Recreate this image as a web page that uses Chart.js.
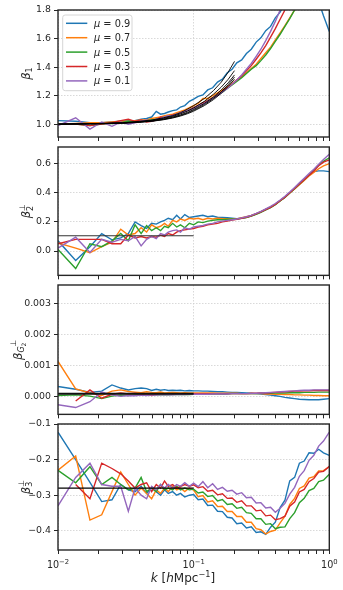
<!DOCTYPE html>
<html>
<head>
<meta charset="utf-8">
<title>beta coefficients vs k</title>
<script src="https://cdn.jsdelivr.net/npm/chart.js@4.4.1/dist/chart.umd.min.js"></script>
<style>
html,body{margin:0;padding:0;background:#ffffff;}
#wrap{position:relative;width:343px;height:590px;overflow:hidden;background:#ffffff;}
#wrap canvas{position:absolute;left:0;}
</style>
</head>
<body>
<div id="wrap">
<canvas id="p1"></canvas><canvas id="p2"></canvas><canvas id="p3"></canvas><canvas id="p4"></canvas>
</div>
<script>
// ---------------- data ----------------
const K = [0.0100,0.0135,0.0172,0.0210,0.0250,0.0290,0.0330,0.0370,0.0410,0.0450,0.0490,0.0530,0.0570,0.0610,0.0650,0.0700,0.0750,0.0800,0.0860,0.0930,0.1000,0.108,0.117,0.127,0.138,0.150,0.163,0.177,0.192,0.208,0.226,0.245,0.266,0.289,0.313,0.340,0.369,0.400,0.434,0.471,0.511,0.555,0.602,0.653,0.709,0.769,0.835,0.906,1.000];
const MU = ['0.9','0.7','0.5','0.3','0.1'];
const COLORS = ['#1f77b4','#ff7f0e','#2ca02c','#d62728','#9467bd'];

// beta_1
const B1_MU09 = [1.025,1.02,1.01,1.01,1.015,1.02,1.025,1.025,1.035,1.04,1.05,1.09,1.07,1.075,1.085,1.095,1.10,1.12,1.13,1.16,1.175,1.195,1.205,1.24,1.255,1.295,1.315,1.36,1.385,1.43,1.45,1.495,1.525,1.575,1.605,1.655,1.685,1.745,1.785,1.85,1.92,1.99,2.04,2.07,2.04,1.95,1.86,1.76,1.65];
const B1_MU07 = [1.0,1.005,1.01,1.01,1.015,1.02,1.02,1.025,1.03,1.03,1.04,1.045,1.05,1.06,1.065,1.07,1.08,1.09,1.10,1.115,1.13,1.145,1.18,1.18,1.20,1.22,1.24,1.26,1.285,1.31,1.33,1.36,1.39,1.42,1.46,1.50,1.54,1.59,1.64,1.69,1.745,1.80,1.86,1.92,1.98,2.05,2.10,2.15,2.20];
const B1_MU05 = [1.0,1.0,0.99,1.0,1.005,1.01,1.02,1.015,1.02,1.025,1.03,1.035,1.04,1.05,1.055,1.06,1.07,1.08,1.09,1.10,1.115,1.13,1.15,1.165,1.185,1.205,1.225,1.25,1.275,1.30,1.325,1.355,1.385,1.41,1.445,1.485,1.53,1.58,1.63,1.685,1.74,1.80,1.86,1.92,1.98,2.04,2.10,2.16,2.22];
const B1_MU03 = [1.0,1.0,0.99,1.0,1.01,1.025,1.035,1.02,1.03,1.015,1.02,1.03,1.05,1.045,1.055,1.065,1.07,1.08,1.09,1.10,1.115,1.13,1.15,1.165,1.185,1.205,1.23,1.255,1.28,1.31,1.34,1.375,1.41,1.455,1.50,1.55,1.61,1.67,1.735,1.80,1.87,1.94,2.0,2.06,2.12,2.18,2.24,2.30,2.36];
const B1_MU01 = [0.99,1.045,0.965,1.015,0.985,1.015,1.0,1.01,1.02,1.03,1.02,1.035,1.04,1.05,1.06,1.06,1.07,1.08,1.09,1.10,1.11,1.13,1.14,1.16,1.18,1.20,1.225,1.25,1.28,1.31,1.345,1.385,1.425,1.475,1.525,1.585,1.65,1.72,1.80,1.88,1.96,2.05,2.12,2.2,2.28,2.36,2.44,2.52,2.6];
const K_FIT1 = [0.01,0.02,0.03,0.04,0.05,0.06,0.07,0.08,0.09,0.10,0.12,0.14,0.16,0.18,0.20];
const B1_FIT09 = [1.0,1.005,1.01,1.02,1.03,1.045,1.06,1.08,1.105,1.13,1.18,1.235,1.295,1.365,1.44];
const B1_FIT07 = [1.0,1.004,1.009,1.017,1.027,1.04,1.054,1.072,1.092,1.113,1.16,1.21,1.26,1.315,1.375];
const B1_FIT05 = [1.0,1.003,1.008,1.015,1.024,1.035,1.049,1.065,1.083,1.103,1.145,1.19,1.24,1.29,1.345];
const B1_FIT03 = [1.0,1.003,1.007,1.014,1.022,1.033,1.046,1.061,1.078,1.097,1.137,1.18,1.227,1.277,1.33];
const B1_FIT01 = [1.0,1.003,1.007,1.013,1.021,1.031,1.043,1.057,1.073,1.091,1.13,1.172,1.217,1.265,1.315];

// beta_2 perp
const B2_MU09 = [0.07,-0.065,0.03,0.12,0.077,0.09,0.12,0.20,0.175,0.155,0.19,0.185,0.20,0.21,0.225,0.215,0.245,0.22,0.25,0.23,0.235,0.24,0.245,0.235,0.24,0.232,0.23,0.228,0.225,0.222,0.226,0.232,0.242,0.255,0.268,0.285,0.30,0.32,0.345,0.37,0.40,0.43,0.46,0.49,0.52,0.545,0.55,0.55,0.545];
const B2_MU07 = [0.055,0.02,-0.012,0.03,0.06,0.15,0.11,0.12,0.16,0.13,0.18,0.16,0.17,0.19,0.17,0.21,0.20,0.22,0.21,0.225,0.22,0.225,0.215,0.225,0.22,0.225,0.222,0.222,0.22,0.221,0.228,0.235,0.244,0.256,0.27,0.286,0.302,0.322,0.346,0.37,0.398,0.426,0.455,0.485,0.515,0.54,0.565,0.585,0.60];
const B2_MU05 = [0.01,-0.12,0.05,0.03,0.07,0.12,0.07,0.18,0.12,0.175,0.14,0.16,0.14,0.17,0.16,0.19,0.165,0.18,0.16,0.19,0.18,0.20,0.195,0.205,0.21,0.215,0.215,0.218,0.22,0.219,0.224,0.23,0.24,0.252,0.266,0.283,0.298,0.318,0.343,0.368,0.398,0.428,0.458,0.49,0.522,0.555,0.59,0.615,0.64];
const B2_MU03 = [0.05,0.08,0.08,0.08,0.05,0.05,0.11,0.09,0.10,0.09,0.10,0.095,0.11,0.10,0.12,0.11,0.13,0.14,0.145,0.15,0.155,0.165,0.17,0.18,0.185,0.19,0.20,0.205,0.212,0.218,0.225,0.232,0.242,0.255,0.268,0.285,0.30,0.32,0.345,0.37,0.40,0.43,0.46,0.49,0.52,0.55,0.585,0.61,0.625];
const B2_MU01 = [0.02,0.095,-0.01,0.08,0.06,0.08,0.07,0.10,0.035,0.08,0.10,0.085,0.12,0.11,0.13,0.14,0.145,0.13,0.16,0.15,0.165,0.17,0.175,0.185,0.19,0.20,0.205,0.21,0.215,0.22,0.228,0.235,0.245,0.258,0.272,0.29,0.306,0.326,0.35,0.376,0.405,0.436,0.468,0.5,0.532,0.562,0.595,0.628,0.665];
const K_FLAT = [0.01,0.1];
const B2_FIT = [0.105,0.105];

// beta_G2 perp
const BG2_MU09 = [0.00033,0.00024,0.00014,0.00018,0.00038,0.00028,0.00022,0.00026,0.00028,0.00026,0.00020,0.00024,0.00021,0.00023,0.00020,0.00021,0.00020,0.00021,0.00019,0.00020,0.00019,0.00019,0.00018,0.00018,0.00017,0.00016,0.00016,0.00015,0.00014,0.00014,0.00013,0.00012,0.00011,0.00010,0.00009,0.00007,0.00005,0.00003,0.00001,-0.00002,-0.00004,-0.00006,-0.00008,-0.00009,-0.00010,-0.00010,-0.00010,-0.00008,-0.00006];
const BG2_MU07 = [0.00114,0.00025,0.00012,0.00004,0.00018,0.00022,0.00017,0.00015,0.00013,0.00016,0.00014,0.00013,0.00015,0.00012,0.00013,0.00014,0.00013,0.00012,0.00013,0.00012,0.00012,0.00012,0.00012,0.00012,0.00012,0.00011,0.00011,0.00011,0.00011,0.00011,0.00010,0.00010,0.00010,0.00010,0.00010,0.00009,0.00009,0.00008,0.00008,0.00007,0.00007,0.00006,0.00006,0.00005,0.00005,0.00004,0.00004,0.00003,0.00003];
const BG2_MU05 = [0.00004,0.00006,0.00002,-0.00006,0.00002,0.00005,0.00004,0.00006,0.00007,0.00005,0.00006,0.00007,0.00006,0.00007,0.00006,0.00007,0.00007,0.00007,0.00008,0.00007,0.00008,0.00008,0.00008,0.00008,0.00009,0.00009,0.00009,0.00009,0.00010,0.00010,0.00010,0.00010,0.00010,0.00010,0.00011,0.00011,0.00011,0.00012,0.00012,0.00012,0.00013,0.00013,0.00013,0.00014,0.00014,0.00014,0.00015,0.00015,0.00015];
const BG2_MU03 = [null,-0.00014,0.00022,-0.00005,0.00008,0.00012,0.00009,0.00011,0.00007,0.00010,0.00004,0.00008,0.00010,0.00008,0.00009,0.00010,0.00009,0.00010,0.00009,0.00010,0.00010,0.00010,0.00010,0.00010,0.00010,0.00010,0.00010,0.00010,0.00010,0.00010,0.00010,0.00010,0.00011,0.00011,0.00012,0.00012,0.00013,0.00014,0.00015,0.00016,0.00017,0.00018,0.00018,0.00019,0.00019,0.00020,0.00020,0.00020,0.00020];
const BG2_MU01 = [-0.00026,-0.00035,-0.00016,0.00015,0.00006,0.00001,0.00004,0.00003,0.00005,0.00004,0.00006,0.00005,0.00006,0.00006,0.00007,0.00006,0.00007,0.00007,0.00007,0.00008,0.00008,0.00008,0.00008,0.00008,0.00009,0.00009,0.00009,0.00009,0.00010,0.00010,0.00010,0.00010,0.00010,0.00011,0.00012,0.00013,0.00014,0.00015,0.00016,0.00017,0.00018,0.00019,0.00020,0.00021,0.00021,0.00022,0.00022,0.00022,0.00022];
const BG2_FIT = [0.0001,0.0001];

// beta_3 perp
const B3_MU09 = [-0.123,-0.20,-0.264,-0.318,-0.313,-0.27,-0.285,-0.29,-0.275,-0.295,-0.28,-0.29,-0.30,-0.285,-0.295,-0.29,-0.30,-0.295,-0.305,-0.30,-0.298,-0.313,-0.311,-0.329,-0.328,-0.345,-0.346,-0.362,-0.364,-0.380,-0.378,-0.392,-0.389,-0.405,-0.403,-0.41,-0.39,-0.376,-0.335,-0.314,-0.26,-0.25,-0.21,-0.204,-0.181,-0.182,-0.171,-0.181,-0.188];
const B3_MU07 = [-0.23,-0.19,-0.37,-0.355,-0.29,-0.235,-0.27,-0.30,-0.28,-0.295,-0.31,-0.285,-0.295,-0.28,-0.29,-0.275,-0.285,-0.28,-0.29,-0.28,-0.286,-0.304,-0.301,-0.319,-0.316,-0.332,-0.331,-0.346,-0.346,-0.36,-0.36,-0.376,-0.376,-0.394,-0.397,-0.409,-0.402,-0.398,-0.378,-0.359,-0.326,-0.309,-0.281,-0.274,-0.252,-0.248,-0.232,-0.231,-0.22];
const B3_MU05 = [-0.23,-0.265,-0.22,-0.27,-0.25,-0.27,-0.285,-0.28,-0.25,-0.29,-0.28,-0.29,-0.27,-0.285,-0.28,-0.285,-0.275,-0.285,-0.28,-0.285,-0.283,-0.294,-0.291,-0.304,-0.301,-0.316,-0.312,-0.326,-0.324,-0.337,-0.334,-0.349,-0.351,-0.366,-0.366,-0.382,-0.38,-0.394,-0.39,-0.389,-0.366,-0.349,-0.321,-0.309,-0.287,-0.281,-0.262,-0.258,-0.241];
const B3_MU03 = [null,-0.27,-0.31,-0.21,-0.225,-0.24,-0.26,-0.28,-0.27,-0.265,-0.29,-0.27,-0.28,-0.26,-0.275,-0.27,-0.28,-0.275,-0.27,-0.275,-0.271,-0.279,-0.276,-0.289,-0.286,-0.299,-0.296,-0.309,-0.308,-0.32,-0.316,-0.33,-0.33,-0.344,-0.342,-0.358,-0.356,-0.369,-0.366,-0.359,-0.331,-0.319,-0.291,-0.284,-0.262,-0.253,-0.235,-0.233,-0.219];
const B3_MU01 = [-0.33,-0.25,-0.21,-0.27,-0.275,-0.275,-0.345,-0.28,-0.30,-0.31,-0.275,-0.285,-0.27,-0.28,-0.27,-0.28,-0.27,-0.275,-0.265,-0.275,-0.266,-0.276,-0.262,-0.279,-0.268,-0.284,-0.278,-0.289,-0.286,-0.297,-0.293,-0.307,-0.306,-0.322,-0.321,-0.336,-0.334,-0.348,-0.337,-0.323,-0.297,-0.278,-0.247,-0.231,-0.202,-0.188,-0.162,-0.148,-0.123];
const B3_FIT = [-0.28,-0.28];

// ticks
const X_TICKS = [0.01,0.02,0.03,0.04,0.05,0.06,0.07,0.08,0.09,0.1,0.2,0.3,0.4,0.5,0.6,0.7,0.8,0.9,1];
const X_MAJOR = [0.01,0.1,1];
const X_EXP = ['\u22122','\u22121','0'];
const Y_TICKS1 = [1.0,1.2,1.4,1.6,1.8];
const Y_TICKS2 = [0.0,0.2,0.4,0.6];
const Y_TICKS3 = [0.000,0.001,0.002,0.003];
const Y_TICKS4 = [-0.4,-0.3,-0.2,-0.1];

// ---------------- drawing ----------------
const FONT = '"DejaVu Sans", "Liberation Sans", sans-serif';
const INK = '#262626';
const GRID = '#cfcfcf';
function isMajor(v){ const l = Math.log10(v); return Math.abs(l - Math.round(l)) < 1e-6; }
function pts(xs, ys){ return xs.map((x,i)=>({x:x, y:ys[i]})); }

function drawParts(ctx, parts, x, y, align){
  let cur = 0, lastStart = 0, lastEnd = 0; const items = [];
  parts.forEach(p=>{
    const size = p.s || 11;
    const font = (p.i ? 'italic ' : '') + size + 'px ' + FONT;
    ctx.font = font;
    const w = ctx.measureText(p.t).width;
    const start = p.back ? lastStart : cur;
    items.push({t:p.t, font:font, x:start, dy:p.dy || 0});
    const end = start + w;
    if (p.back) { cur = Math.max(lastEnd, end); lastEnd = cur; }
    else { lastStart = start; lastEnd = end; cur = end; }
  });
  const x0 = align === 'center' ? x - cur/2 : x;
  items.forEach(it=>{ ctx.font = it.font; ctx.fillText(it.t, x0 + it.x, y + it.dy); });
}

const deco = {
  id: 'deco',
  afterDatasetsDraw(chart, args, o){
    const ctx = chart.ctx, a = chart.chartArea;
    ctx.save();
    ctx.strokeStyle = INK; ctx.lineWidth = 1.4;
    ctx.strokeRect(a.left, a.top, a.right - a.left, a.bottom - a.top);
    ctx.restore();
  },
  afterDraw(chart, args, o){
    const ctx = chart.ctx, a = chart.chartArea;
    ctx.save();
    ctx.fillStyle = INK; ctx.textBaseline = 'alphabetic';
    ctx.translate(o.titleX, (a.top + a.bottom)/2);
    ctx.rotate(-Math.PI/2);
    drawParts(ctx, o.title, 0, 0, 'center');
    ctx.restore();

    if (o.legend){
      ctx.save();
      const bx = a.left + 4.7, by = a.top + 5, bw = 69.3, bh = 75.7, r = 2.5;
      ctx.beginPath();
      ctx.moveTo(bx + r, by); ctx.lineTo(bx + bw - r, by); ctx.quadraticCurveTo(bx + bw, by, bx + bw, by + r);
      ctx.lineTo(bx + bw, by + bh - r); ctx.quadraticCurveTo(bx + bw, by + bh, bx + bw - r, by + bh);
      ctx.lineTo(bx + r, by + bh); ctx.quadraticCurveTo(bx, by + bh, bx, by + bh - r);
      ctx.lineTo(bx, by + r); ctx.quadraticCurveTo(bx, by, bx + r, by); ctx.closePath();
      ctx.fillStyle = 'rgba(255,255,255,0.8)'; ctx.fill();
      ctx.strokeStyle = '#d6d6d6'; ctx.lineWidth = 1; ctx.stroke();
      chart.data.datasets.slice(0,5).forEach((d,i)=>{
        const yy = by + 8.3 + i*14.4;
        ctx.strokeStyle = d.borderColor; ctx.lineWidth = 1.5;
        ctx.beginPath(); ctx.moveTo(bx + 3.3, yy); ctx.lineTo(bx + 24.6, yy); ctx.stroke();
        ctx.fillStyle = INK;
        drawParts(ctx, [{t:'\u03bc', i:1, s:9.8}, {t:' = ' + MU[i], s:9.8}], bx + 31.3, yy + 3.5, 'left');
      });
      ctx.restore();
    }

    if (o.xLabels){
      ctx.save();
      ctx.fillStyle = INK; ctx.textBaseline = 'alphabetic';
      const xs = chart.scales.x;
      X_MAJOR.forEach((v,i)=>{
        const px = xs.getPixelForValue(v);
        drawParts(ctx, [{t:'10', s:9.6}, {t:X_EXP[i], s:6.8, dy:-4}], px, a.bottom + 17.5, 'center');
      });
      drawParts(ctx, [{t:'k', i:1, s:12}, {t:' [', s:12}, {t:'h', i:1, s:12}, {t:'Mpc', s:12}, {t:'\u22121', s:8.2, dy:-5}, {t:']', s:12}], 183, a.bottom + 31.5, 'center');
      ctx.restore();
    }
  }
};

function makePanel(id, p){
  const cv = document.getElementById(id);
  cv.width = 343; cv.height = p.h;
  cv.style.top = p.top + 'px'; cv.style.width = '343px'; cv.style.height = p.h + 'px';
  const datasets = p.series.map((arr,i)=>({
    label: '\u03bc = ' + MU[i], data: pts(K, arr), borderColor: COLORS[i], backgroundColor: COLORS[i],
    borderWidth: 1.4, pointRadius: 0, tension: 0, fill: false, order: 5 - i, spanGaps: false
  }));
  p.fits.forEach(f=>datasets.push({
    label: '', data: pts(f.x, f.y), borderColor: f.c || '#000000', borderWidth: f.w || 1,
    pointRadius: 0, tension: 0, fill: false, order: -1
  }));
  new Chart(cv, {
    type: 'line',
    data: {datasets: datasets},
    options: {
      responsive: false, animation: false, devicePixelRatio: 1, events: [],
      layout: {padding: {top: 10, left: 0, right: 13.7, bottom: 0}},
      plugins: {
        legend: {display: false}, tooltip: {enabled: false},
        deco: {title: p.title, titleX: p.titleX, legend: !!p.legend, xLabels: !!p.xLabels}
      },
      scales: {
        x: {
          type: 'logarithmic', min: 0.01, max: 1, position: 'bottom',
          afterBuildTicks: s=>{ s.ticks = X_TICKS.map(v=>({value: v, major: isMajor(v)})); },
          afterFit: s=>{ s.height = p.h - 10 - p.ph; },
          ticks: {autoSkip: false, maxRotation: 0, minRotation: 0, callback: ()=>'', font: {size: 9}},
          grid: {
            color: c=>(c.tick && isMajor(c.tick.value)) ? GRID : 'rgba(0,0,0,0)',
            lineWidth: 0.8, tickColor: INK, tickLength: 4, tickWidth: 1
          },
          border: {display: false, dash: [1.5, 1.5]}
        },
        y: {
          type: 'linear', min: p.ymin, max: p.ymax,
          afterBuildTicks: s=>{ s.ticks = p.yticks.map(v=>({value: v})); },
          afterFit: s=>{ s.width = 58; },
          ticks: {callback: v=>p.fmt(v), font: {family: FONT, size: 9.4}, color: INK, padding: 3, autoSkip: false},
          grid: {color: GRID, lineWidth: 0.8, tickColor: INK, tickLength: 4, tickWidth: 1},
          border: {display: false, dash: [1.5, 1.5]}
        }
      }
    },
    plugins: [deco]
  });
}

const f1 = v=>v.toFixed(1);
const fMinus = (v,d)=>(v < -1e-12 ? '\u2212' : '') + Math.abs(v).toFixed(d);

makePanel('p1', {
  top: 0, h: 150, ph: 127, ymin: 0.91, ymax: 1.8, yticks: Y_TICKS1, fmt: f1,
  series: [B1_MU09, B1_MU07, B1_MU05, B1_MU03, B1_MU01],
  fits: [{x:K_FIT1,y:B1_FIT09,w:0.9},{x:K_FIT1,y:B1_FIT07,w:0.9},{x:K_FIT1,y:B1_FIT05,w:0.9},{x:K_FIT1,y:B1_FIT03,w:0.9},{x:K_FIT1,y:B1_FIT01,w:0.9}],
  title: [{t:'\u03b2', i:1, s:11.5}, {t:'1', s:8, dy:2.5}], titleX: 29.5, legend: true
});
makePanel('p2', {
  top: 137, h: 147, ph: 129, ymin: -0.167, ymax: 0.714, yticks: Y_TICKS2, fmt: v=>fMinus(v,1),
  series: [B2_MU09, B2_MU07, B2_MU05, B2_MU03, B2_MU01],
  fits: [{x:K_FLAT,y:B2_FIT,w:1.1,c:'#333333'}],
  title: [{t:'\u03b2', i:1, s:11.5}, {t:'2', s:8, dy:2.5}, {t:'\u22a5', s:8, dy:-5.5, back:1}], titleX: 30
});
makePanel('p3', {
  top: 275, h: 148, ph: 130, ymin: -0.00057, ymax: 0.00361, yticks: Y_TICKS3, fmt: v=>fMinus(v,3),
  series: [BG2_MU09, BG2_MU07, BG2_MU05, BG2_MU03, BG2_MU01],
  fits: [{x:K_FLAT,y:BG2_FIT,w:2,c:'#111111'}],
  title: [{t:'\u03b2', i:1, s:11.5}, {t:'G', i:1, s:8, dy:2.5}, {t:'2', s:6, dy:4.5}, {t:'\u22a5', s:8, dy:-5.5, back:1}], titleX: 21.5
});
makePanel('p4', {
  top: 414, h: 176, ph: 126, ymin: -0.454, ymax: -0.1, yticks: Y_TICKS4, fmt: v=>fMinus(v,1),
  series: [B3_MU09, B3_MU07, B3_MU05, B3_MU03, B3_MU01],
  fits: [{x:K_FLAT,y:B3_FIT,w:1.2,c:'#000000'}],
  title: [{t:'\u03b2', i:1, s:11.5}, {t:'3', s:8, dy:2.5}, {t:'\u22a5', s:8, dy:-5.5, back:1}], titleX: 29.5, xLabels: true
});
</script>
</body>
</html>
